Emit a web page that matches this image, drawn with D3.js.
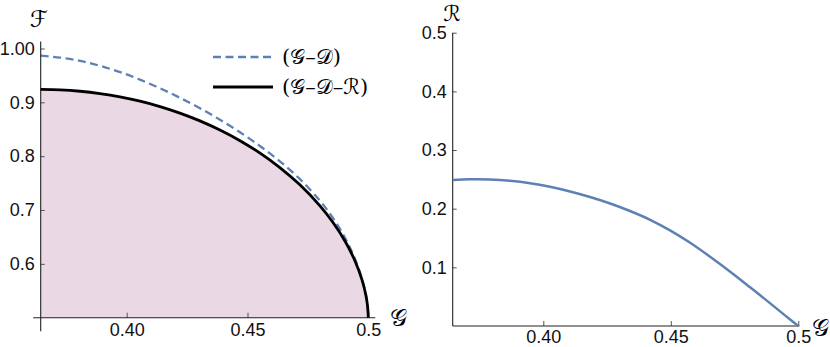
<!DOCTYPE html>
<html><head><meta charset="utf-8">
<script src="https://cdn.jsdelivr.net/npm/d3@7"></script>
<style>
body{margin:0;background:#fff;}
svg text{font-family:"Liberation Sans",Arial,sans-serif;}
.scr{font-family:"DejaVu Serif","DejaVu Sans",serif;}
</style></head>
<body>
<svg id="c" width="830" height="347"></svg>
<script>
// ---------- data ----------
// Left panel: F versus G
const blackG = [0.3644,0.3724,0.3807,0.3889,0.3972,0.4055,0.4138,0.4220,0.4303,0.4386,0.4469,0.4552,0.4634,0.4717,0.4800,0.4854,0.4904,0.4945,0.4974,0.4990,0.4997,0.5000];
const blackF = [0.9240,0.9232,0.9206,0.9163,0.9102,0.9021,0.8921,0.8800,0.8656,0.8486,0.8288,0.8057,0.7789,0.7468,0.7077,0.6768,0.6419,0.6054,0.5702,0.5417,0.5215,0.5000];
const dashG = [0.3644,0.3724,0.3807,0.3889,0.3972,0.4055,0.4138,0.4220,0.4303,0.4386,0.4469,0.4552,0.4634,0.4717,0.4800,0.4850,0.4891,0.4924,0.4957,0.4978,0.4990,0.4997,0.5000];
const dashF = [0.9866,0.9832,0.9771,0.9678,0.9562,0.9421,0.9261,0.9085,0.8891,0.8676,0.8443,0.8187,0.7904,0.7573,0.7172,0.6877,0.6587,0.6302,0.5952,0.5655,0.5425,0.5218,0.5000];
// Right panel: R versus G
const rightG = [0.3645,0.3712,0.3791,0.3869,0.3948,0.4026,0.4105,0.4183,0.4262,0.4340,0.4419,0.4497,0.4576,0.4654,0.4733,0.4811,0.4890,0.4949,0.5000];
const rightR = [0.2489,0.2500,0.2497,0.2475,0.2434,0.2373,0.2293,0.2199,0.2089,0.1961,0.1811,0.1631,0.1419,0.1181,0.0926,0.0660,0.0386,0.0177,0.0000];
// ticks
const xTicks = [0.40,0.45,0.5];
const xTickLabels = ["0.40","0.45","0.5"];
const yTicksL = [0.6,0.7,0.8,0.9,1.0];
const yTickLabelsL = ["0.6","0.7","0.8","0.9","1.00"];
const yTicksR = [0.1,0.2,0.3,0.4,0.5];
const yTickLabelsR = ["0.1","0.2","0.3","0.4","0.5"];
const legendLabels = ["(\u{1D4A2}\u2013\u{1D49F})","(\u{1D4A2}\u2013\u{1D49F}\u2013\u211B)"];

const svg = d3.select("#c");
const blue = "#5e81b5";

// ---------- left panel ----------
const xL = d3.scaleLinear().domain([0.3644,0.5]).range([40.7,368.3]);
const yL = d3.scaleLinear().domain([0.5,1.0]).range([317.7,48.5]);

const black = blackG.map((g,i)=>[g,blackF[i]]);
const dash = dashG.map((g,i)=>[g,dashF[i]]);

svg.append("path").datum(black)
  .attr("d", d3.area().x(d=>xL(d[0])).y0(yL(0.5)).y1(d=>yL(d[1])).curve(d3.curveCatmullRom))
  .attr("fill","#ead8e4");

svg.append("path").datum(dash)
  .attr("d", d3.line().x(d=>xL(d[0])).y(d=>yL(d[1])).curve(d3.curveCatmullRom))
  .attr("fill","none").attr("stroke",blue).attr("stroke-width",2.3).attr("stroke-dasharray","8,4.5");

// axes left
const axL = svg.append("g").attr("transform",`translate(0,${yL(0.5)})`)
  .call(d3.axisBottom(xL).tickValues(xTicks).tickFormat((d,i)=>xTickLabels[i]).tickSizeInner(-5).tickSizeOuter(0).tickPadding(6));
const ayL = svg.append("g").attr("transform",`translate(${xL(0.3644)},0)`)
  .call(d3.axisLeft(yL).tickValues(yTicksL).tickFormat((d,i)=>yTickLabelsL[i]).tickSizeInner(-4).tickSizeOuter(0).tickPadding(6));
[axL,ayL].forEach(a=>{a.select(".domain").remove();a.selectAll("line").attr("stroke","#555");
  a.selectAll("text").attr("font-size",18).attr("fill","#111").attr("font-family","Liberation Sans");});
svg.append("line").attr("x1",xL(0.3644)-7.5).attr("x2",xL(0.5)+7).attr("y1",yL(0.5)).attr("y2",yL(0.5)).attr("stroke","#222").attr("stroke-width",1.1);
svg.append("line").attr("x1",xL(0.3644)).attr("x2",xL(0.3644)).attr("y1",yL(1.0)-7).attr("y2",yL(0.5)+13.5).attr("stroke","#222").attr("stroke-width",1.1);

svg.append("path").datum(black)
  .attr("d", d3.line().x(d=>xL(d[0])).y(d=>yL(d[1])).curve(d3.curveCatmullRom))
  .attr("fill","none").attr("stroke","#000").attr("stroke-width",2.8);

svg.append("text").attr("class","scr").attr("x",39).attr("y",27).attr("text-anchor","middle").attr("font-size",23).text("\u2131");
svg.append("text").attr("class","scr").attr("x",398).attr("y",326).attr("text-anchor","middle").attr("font-size",24).text("\u{1D4A2}");

// legend
svg.append("line").attr("x1",213).attr("x2",273).attr("y1",57).attr("y2",57).attr("stroke",blue).attr("stroke-width",2.3).attr("stroke-dasharray","8,4.5");
svg.append("line").attr("x1",213).attr("x2",273).attr("y1",87).attr("y2",87).attr("stroke","#000").attr("stroke-width",2.8);
svg.append("text").attr("class","scr").attr("x",282).attr("y",64).attr("font-size",21).text(legendLabels[0]);
svg.append("text").attr("class","scr").attr("x",282).attr("y",94).attr("font-size",21).text(legendLabels[1]);

// ---------- right panel ----------
const xR = d3.scaleLinear().domain([0.36447,0.5]).range([452.7,798.3]);
const yR = d3.scaleLinear().domain([0,0.5]).range([326,32.7]);
const axR = svg.append("g").attr("transform",`translate(0,${yR(0)})`)
  .call(d3.axisBottom(xR).tickValues(xTicks).tickFormat((d,i)=>xTickLabels[i]).tickSizeInner(-5).tickSizeOuter(0).tickPadding(4));
const ayR = svg.append("g").attr("transform",`translate(${xR(0.36447)},0)`)
  .call(d3.axisLeft(yR).tickValues(yTicksR).tickFormat((d,i)=>yTickLabelsR[i]).tickSizeInner(-4).tickSizeOuter(0).tickPadding(6));
[axR,ayR].forEach(a=>{a.select(".domain").remove();a.selectAll("line").attr("stroke","#555");
  a.selectAll("text").attr("font-size",18).attr("fill","#111").attr("font-family","Liberation Sans");});
svg.append("line").attr("x1",xR(0.36447)).attr("x2",xR(0.5)+1).attr("y1",yR(0)).attr("y2",yR(0)).attr("stroke","#222").attr("stroke-width",1.1);
svg.append("line").attr("x1",xR(0.36447)).attr("x2",xR(0.36447)).attr("y1",yR(0.5)).attr("y2",yR(0)).attr("stroke","#222").attr("stroke-width",1.1);

svg.append("path").datum(rightG.map((g,i)=>[g,rightR[i]]))
  .attr("d", d3.line().x(d=>xR(d[0])).y(d=>yR(d[1])).curve(d3.curveCatmullRom))
  .attr("fill","none").attr("stroke",blue).attr("stroke-width",2.5);

svg.append("text").attr("class","scr").attr("x",452).attr("y",21).attr("text-anchor","middle").attr("font-size",22).text("\u211B");
svg.append("text").attr("class","scr").attr("x",820).attr("y",336).attr("text-anchor","middle").attr("font-size",24).text("\u{1D4A2}");
</script>
</body></html>
